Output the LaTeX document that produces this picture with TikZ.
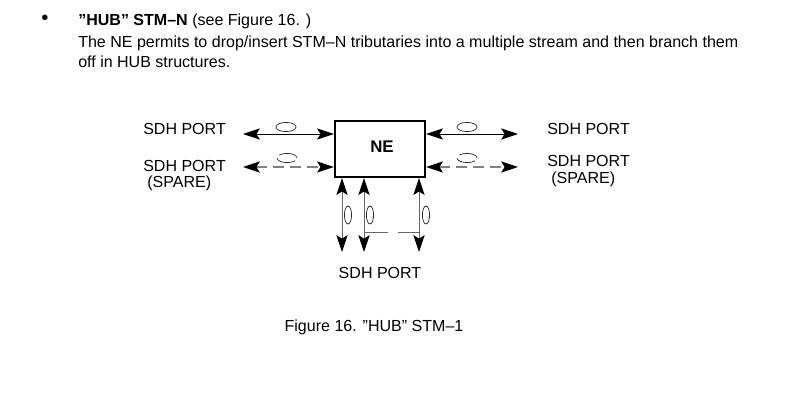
\documentclass[tikz,border=0pt]{standalone}
\usepackage{fontspec}
\setmainfont{Liberation Sans}
\usetikzlibrary{arrows.meta}

\begin{document}
\begin{tikzpicture}[
		font=\fontsize{11.4}{13.5}\selectfont,
		portTip/.tip={Stealth[length=12pt,width=8pt,inset=2.5pt,color=black]},
		portArrow/.style={draw=black, line width=0.6pt, portTip-portTip},
		spareArrow/.style={portArrow, draw=black!50, line width=0.8pt, dash pattern=on 8pt off 4pt},
		hubArrow/.style={portArrow, draw=black!60},
		portLabel/.style={anchor=west, inner sep=0pt},
		streamMark/.style={draw=black!85, line width=0.5pt}
		]
		
		\useasboundingbox (0,0) rectangle (19.65,-10.225);
		
		%Text above the figure
		\node (bullet) at (1.125,-0.5) {\Large\textbullet};
		\node (heading) at (1.95,-0.65) [anchor=base west, inner sep=0pt]{\textbf{”HUB” STM–N} (see Figure 16. )};
		\node (paraOne) at (1.95,-1.2) [anchor=base west, inner sep=0pt]{The NE permits to drop/insert STM–N tributaries into a multiple stream and then branch them};
		\node (paraTwo) at (1.95,-1.7) [anchor=base west, inner sep=0pt]{off in HUB structures.};
		
		%Network element
		\node (ne) at (9.5,-3.725) [rectangle, draw, line width=1.6pt, minimum width=2.25cm, minimum height=1.4cm]{};
		\node (neLabel) at (9.55,-3.675) {\textbf{\large NE}};
		
		%Left ports
		\coordinate (leftPort) at (6.075,-3.35);
		\coordinate (leftSpare) at (6.075,-4.175);
		\draw[portArrow] (leftPort) -- (ne.west |- leftPort);
		\draw[spareArrow] (leftSpare) -- (ne.west |- leftSpare);
		\draw[streamMark] (7.15,-3.175) ellipse (0.25 and 0.115);
		\draw[streamMark, dash pattern=on 14pt off 3pt] (7.175,-3.95) ellipse (0.25 and 0.115);
		\node (leftPortLabel) at (3.575,-3.225) [portLabel]{SDH PORT};
		\node (leftSpareLabel) at (3.575,-4.15) [portLabel]{SDH PORT};
		\node (leftSpareNote) at (3.675,-4.575) [portLabel]{(SPARE)};
		
		%Right ports
		\coordinate (rightPort) at (12.95,-3.35);
		\coordinate (rightSpare) at (12.95,-4.175);
		\draw[portArrow] (ne.east |- rightPort) -- (rightPort);
		\draw[spareArrow] (ne.east |- rightSpare) -- (rightSpare);
		\draw[streamMark] (11.675,-3.175) ellipse (0.25 and 0.115);
		\draw[streamMark, dash pattern=on 14pt off 3pt] (11.675,-3.95) ellipse (0.25 and 0.115);
		\node (rightPortLabel) at (13.675,-3.225) [portLabel]{SDH PORT};
		\node (rightSpareLabel) at (13.675,-4.025) [portLabel]{SDH PORT};
		\node (rightSpareNote) at (13.775,-4.475) [portLabel]{(SPARE)};
		
		%Bottom ports
		\coordinate (hubOne) at (8.55,-6.3);
		\coordinate (hubTwo) at (9.1,-6.3);
		\coordinate (hubThree) at (10.475,-6.3);
		\draw[hubArrow] (ne.south -| hubOne) -- (hubOne);
		\draw[hubArrow] (ne.south -| hubTwo) -- (hubTwo);
		\draw[hubArrow] (ne.south -| hubThree) -- (hubThree);
		\draw[streamMark] (8.7,-5.375) ellipse (0.09 and 0.225);
		\draw[streamMark] (9.25,-5.375) ellipse (0.09 and 0.225);
		\draw[streamMark] (10.65,-5.375) ellipse (0.09 and 0.225);
		\draw[draw=black!60, line width=0.7pt, dash pattern=on 0.6cm off 0.25cm] (hubTwo |- 0,-5.8) -- (hubThree |- 0,-5.8);
		\node (bottomPortLabel) at (9.5,-6.825) {SDH PORT};
		
		%Caption
		\node (caption) at (9.35,-8.175) {Figure 16. ”HUB” STM–1};
		
\end{tikzpicture}
\end{document}
